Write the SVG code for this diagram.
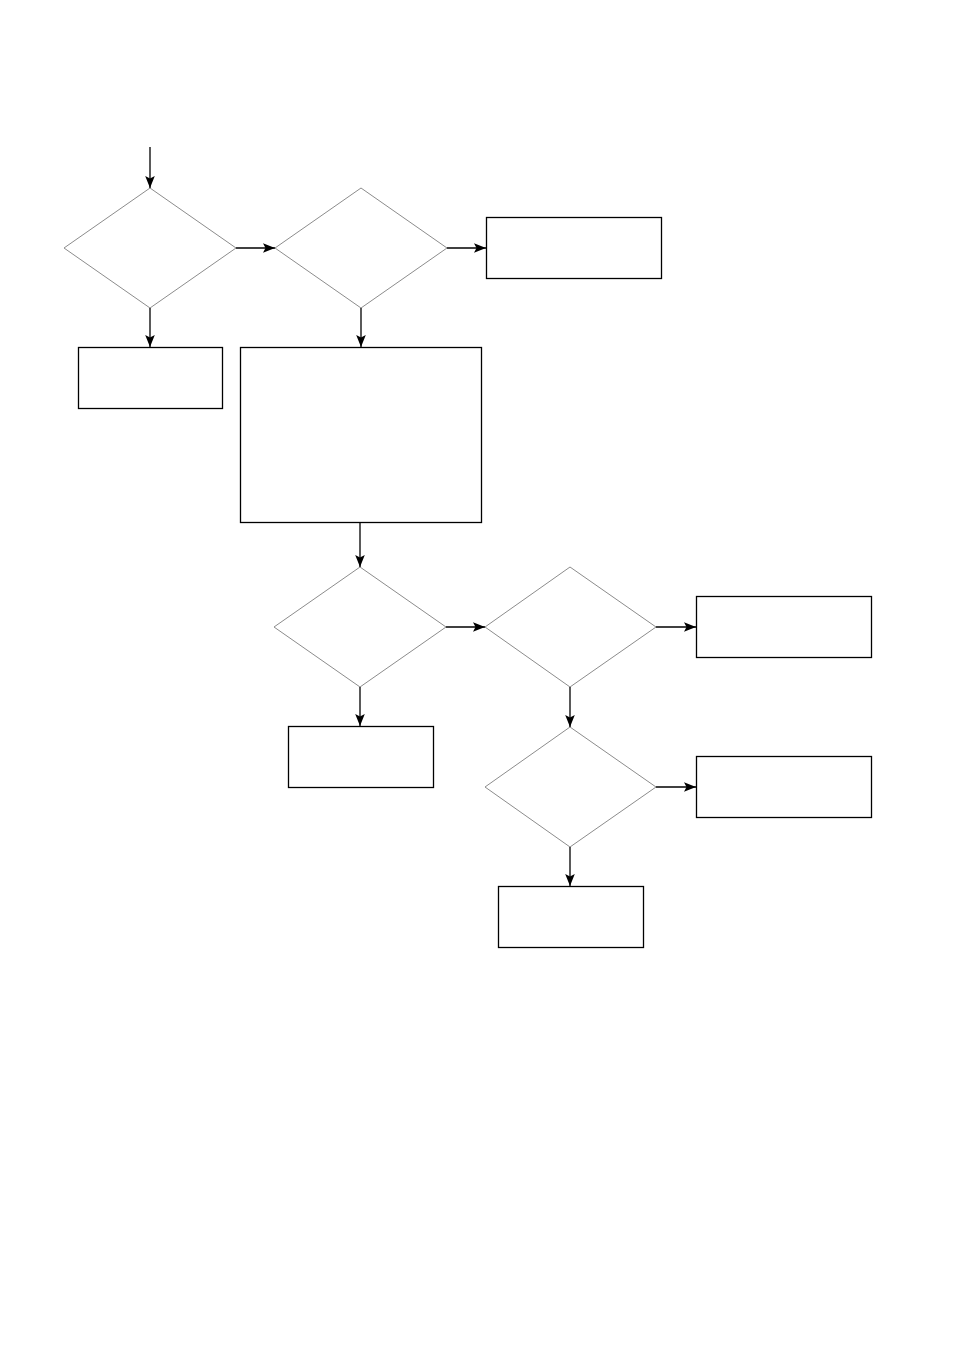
<svg xmlns="http://www.w3.org/2000/svg" width="954" height="1350" viewBox="0 0 954 1350">
<style>
.dia{fill:none;stroke:#8c8c8c;stroke-width:1}
.box{fill:none;stroke:#000;stroke-width:1.3}
.con{fill:none;stroke:#000;stroke-width:1.3}
</style>
<defs>
<marker id="ah" markerUnits="userSpaceOnUse" markerWidth="14" markerHeight="12" refX="12" refY="6" orient="auto">
<path d="M0,1.2 L12,6 L0,10.8 L2.5,6 Z" fill="#000"/>
</marker>
</defs>
<rect width="954" height="1350" fill="#fff"/>
<g id="d1"><polygon class="dia" points="150,188 236,248 150,308 64,248"/></g>
<g id="d2"><polygon class="dia" points="361,188 447,248 361,308 275,248"/></g>
<g id="b1"><rect class="box" x="486.5" y="217.5" width="175" height="61"/></g>
<g id="b2"><rect class="box" x="78.5" y="347.5" width="144" height="61"/></g>
<g id="b3"><rect class="box" x="240.5" y="347.5" width="241" height="175"/></g>
<g id="d3"><polygon class="dia" points="360,567 446,627 360,687 274,627"/></g>
<g id="d4"><polygon class="dia" points="570,567 656,627 570,687 485,627"/></g>
<g id="b4"><rect class="box" x="696.5" y="596.5" width="175" height="61"/></g>
<g id="b5"><rect class="box" x="288.5" y="726.5" width="145" height="61"/></g>
<g id="d5"><polygon class="dia" points="570,727 656,787 570,847 485,787"/></g>
<g id="b6"><rect class="box" x="696.5" y="756.5" width="175" height="61"/></g>
<g id="b7"><rect class="box" x="498.5" y="886.5" width="145" height="61"/></g>
<g id="connectors">
<line class="con" x1="150" y1="147" x2="150" y2="188" marker-end="url(#ah)"/>
<line class="con" x1="236" y1="248" x2="275" y2="248" marker-end="url(#ah)"/>
<line class="con" x1="447" y1="248" x2="486" y2="248" marker-end="url(#ah)"/>
<line class="con" x1="150" y1="308" x2="150" y2="347" marker-end="url(#ah)"/>
<line class="con" x1="361" y1="308" x2="361" y2="347" marker-end="url(#ah)"/>
<line class="con" x1="360" y1="523" x2="360" y2="567" marker-end="url(#ah)"/>
<line class="con" x1="446" y1="627" x2="485" y2="627" marker-end="url(#ah)"/>
<line class="con" x1="656" y1="627" x2="696" y2="627" marker-end="url(#ah)"/>
<line class="con" x1="360" y1="687" x2="360" y2="726" marker-end="url(#ah)"/>
<line class="con" x1="570" y1="687" x2="570" y2="727" marker-end="url(#ah)"/>
<line class="con" x1="656" y1="787" x2="696" y2="787" marker-end="url(#ah)"/>
<line class="con" x1="570" y1="847" x2="570" y2="886" marker-end="url(#ah)"/>
</g>
</svg>
